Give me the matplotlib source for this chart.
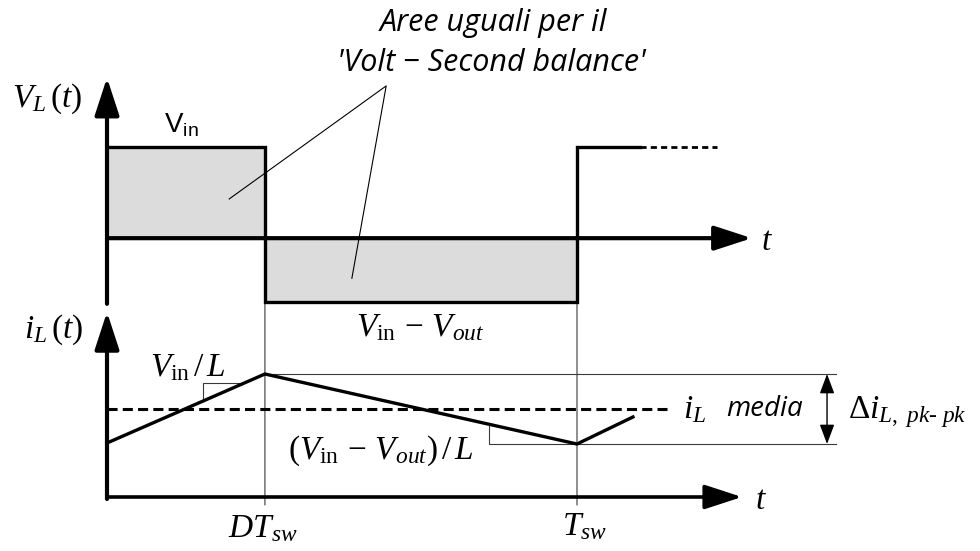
import matplotlib
matplotlib.use('Agg')
import matplotlib.pyplot as plt
from matplotlib.patches import ConnectionPatch

plt.rcParams['font.family'] = ['Liberation Serif', 'DejaVu Sans']
plt.rcParams['mathtext.fontset'] = 'custom'
plt.rcParams['mathtext.rm'] = 'Liberation Serif'
plt.rcParams['mathtext.it'] = 'Liberation Serif:italic'
plt.rcParams['mathtext.sf'] = 'Liberation Sans'

# time in units of T_sw, D = duty cycle
D = 0.336
t_switch = [0.0, D, 1.0]

# inductor voltage (normalised to V_in)
v_in = 1.0
v_off = -0.70                      # V_in - V_out during the off time
t_vl = [0.0, D, D, 1.0, 1.0, 1.134]
v_vl = [v_in, v_in, v_off, v_off, v_in, v_in]
t_vl_cont = [1.134, 1.298]

# inductor current
t_il = [0.0, D, 1.0, 1.119]
i_il = [0.54, 1.23, 0.53, 0.80]
i_pk, i_vy = 1.23, 0.53
i_avg = 0.88
t_avg_end = 1.191

W, H = 980, 551
fig = plt.figure(figsize=(W / 100, H / 100), dpi=100)


def px_box(left, top, right, bottom):
    return [left / W, 1 - bottom / H, (right - left) / W, (bottom - top) / H]


def fig_xy(x, y):
    return x / W, 1 - y / H


ax_v = fig.add_axes(px_box(107, 147, 577, 302))
ax_v.set_xlim(0, 1)
ax_v.set_ylim(v_off, v_in)
ax_v.axis('off')

ax_i = fig.add_axes(px_box(107, 374, 577, 497))
ax_i.set_xlim(0, 1)
ax_i.set_ylim(0, i_pk)
ax_i.axis('off')

fill_c = '#dcdcdc'
thin_c = '#3a3a3a'


def axis_arrow(ax, start, end, lw=3.0, hl=23, hw=7.5):
    ax.annotate('', xy=end, xytext=start, xycoords='data', textcoords='data',
                arrowprops=dict(arrowstyle=f'-|>,head_length={hl},head_width={hw}',
                                mutation_scale=1, lw=lw, color='black',
                                shrinkA=0, shrinkB=0),
                annotation_clip=False, zorder=5)


# --- V_L(t) -------------------------------------------------------------
ax_v.fill_between([t_switch[0], t_switch[1]], 0, v_in, color=fill_c, lw=0, zorder=1)
ax_v.fill_between([t_switch[1], t_switch[2]], v_off, 0, color=fill_c, lw=0, zorder=1)
ax_v.plot(t_vl, v_vl, color='black', lw=2.4, solid_joinstyle='miter', clip_on=False, zorder=3)
ax_v.plot(t_vl_cont, [v_in, v_in], color='black', lw=2.0, ls=(0, (2.2, 1.5)),
          clip_on=False, zorder=3)
axis_arrow(ax_v, (0, -0.72), (0, 1.76))
axis_arrow(ax_v, (0, 0), (1.372, 0))

# leaders from the note to both areas
ax_v.plot([0.26, 0.594, 0.521], [0.43, 1.67, -0.44], color='black', lw=0.8,
          clip_on=False, zorder=4)

# --- i_L(t) -------------------------------------------------------------
ax_i.plot(t_il, i_il, color='black', lw=2.4, clip_on=False, zorder=3)
ax_i.plot([0, t_avg_end], [i_avg, i_avg], color='black', lw=2.2,
          ls=(0, (3.3, 1.7)), clip_on=False, zorder=3)

# peak / valley references and slope marks
ax_i.plot([D, 1.551], [i_pk, i_pk], color=thin_c, lw=0.8, clip_on=False, zorder=2)
ax_i.plot([0.813, 0.813, 1.551], [0.72, i_vy, i_vy], color=thin_c, lw=0.8,
          clip_on=False, zorder=2)
ax_i.plot([0.204, 0.204, 0.283], [0.96, 1.14, 1.14], color=thin_c, lw=0.8,
          clip_on=False, zorder=2)

ax_i.annotate('', xy=(1.532, i_pk), xytext=(1.532, i_vy),
              arrowprops=dict(arrowstyle='<|-|>,head_length=12,head_width=4.5',
                              mutation_scale=1, lw=1.0, color='black',
                              shrinkA=0, shrinkB=0),
              annotation_clip=False)

axis_arrow(ax_i, (0, -0.02), (0, 1.85))
axis_arrow(ax_i, (0, 0), (1.351, 0), lw=2.6)

# switching instants carried down through both plots
for ts in t_switch[1:]:
    fig.add_artist(ConnectionPatch(xyA=(ts, v_off), coordsA=ax_v.transData,
                                   xyB=(ts, -0.08), coordsB=ax_i.transData,
                                   color=thin_c, lw=0.8, zorder=0))

# --- labels -------------------------------------------------------------
note_kw = dict(family='Open Sans', style='italic', fontsize=22, ha='center', va='center')
fig.text(*fig_xy(493, 23), 'Aree uguali per il', **note_kw)
fig.text(*fig_xy(491, 63), "'Volt \u2212 Second balance'", **note_kw)

fs = 24
fig.text(*fig_xy(47, 99), r'$V_L\,(t)$', fontsize=fs, ha='center', va='center')
fig.text(*fig_xy(181, 125), r'$\mathsf{V_{in}}$', fontsize=20, ha='center', va='center')
fig.text(*fig_xy(767, 242), r'$t$', fontsize=fs, ha='center', va='center')

fig.text(*fig_xy(420, 328), r'$V_{\mathrm{in}}\,-\,V_{out}$', fontsize=fs,
         ha='center', va='center')
fig.text(*fig_xy(54, 330), r'$i_L\,(t)$', fontsize=fs, ha='center', va='center')
fig.text(*fig_xy(188, 368), r'$V_{\mathrm{in}}\,/\,L$', fontsize=fs, ha='center', va='center')
fig.text(*fig_xy(381, 451), r'$(V_{\mathrm{in}}\,-\,V_{out})\,/\,L$', fontsize=fs,
         ha='center', va='center')
fig.text(*fig_xy(683, 410), r'$i_L$', fontsize=fs, ha='left', va='center')
fig.text(*fig_xy(726, 409), 'media', family='Open Sans', style='italic', fontsize=20,
         ha='left', va='center')
fig.text(*fig_xy(848, 412), '$\\Delta i_{L,\\ pk\u2010\\ pk}$', fontsize=fs,
         ha='left', va='center')

fig.text(*fig_xy(263, 529), r'$DT_{sw}$', fontsize=fs, ha='center', va='center')
fig.text(*fig_xy(585, 527), r'$T_{sw}$', fontsize=fs, ha='center', va='center')
fig.text(*fig_xy(761, 501), r'$t$', fontsize=fs, ha='center', va='center')

fig.savefig('out.png', dpi=100, facecolor='white')
